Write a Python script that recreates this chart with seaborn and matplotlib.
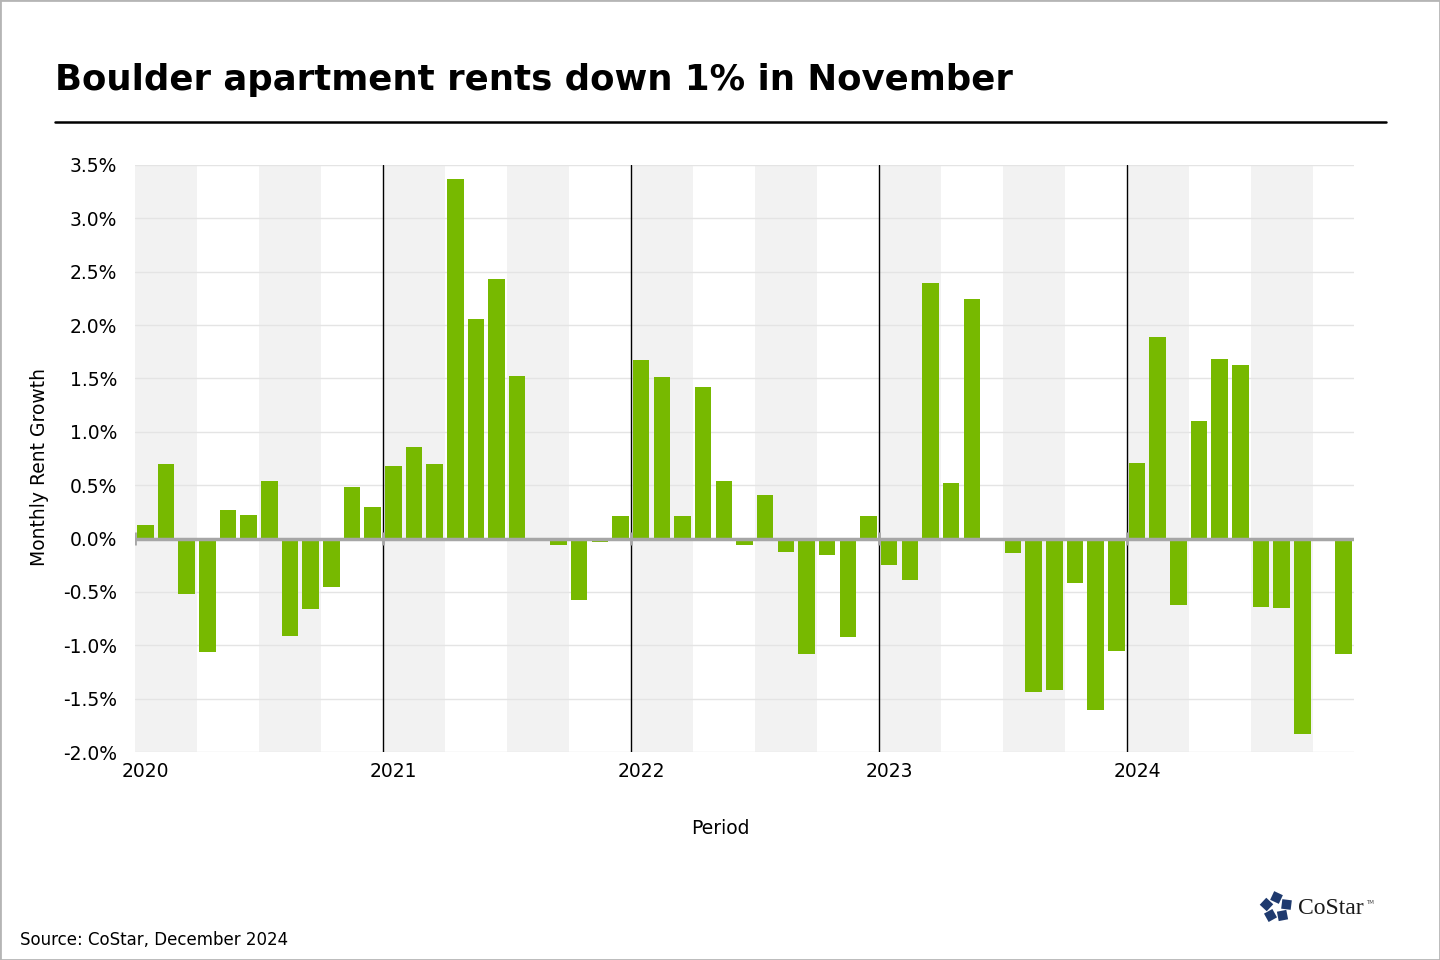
import matplotlib
matplotlib.use('Agg')
import matplotlib.pyplot as plt
from matplotlib.lines import Line2D
from matplotlib.patches import Rectangle
import seaborn as sns
import pandas as pd
import numpy as np


years = ['2020', '2021', '2022', '2023', '2024']
months = ['Jan', 'Feb', 'Mar', 'Apr', 'May', 'Jun',
          'Jul', 'Aug', 'Sep', 'Oct', 'Nov', 'Dec']

# croissance mensuelle des loyers (%)
growth_2020 = [0.13, 0.70, -0.52, -1.06, 0.27, 0.22, 0.54, -0.91, -0.66, -0.45, 0.48, 0.30]
growth_2021 = [0.68, 0.86, 0.70, 3.37, 2.06, 2.43, 1.52, 0.00, -0.06, -0.58, -0.03, 0.21]
growth_2022 = [1.67, 1.51, 0.21, 1.42, 0.54, -0.06, 0.41, -0.13, -1.08, -0.15, -0.92, 0.21]
growth_2023 = [-0.25, -0.39, 2.39, 0.52, 2.24, 0.00, -0.14, -1.44, -1.42, -0.42, -1.61, -1.05]
growth_2024 = [0.71, 1.89, -0.62, 1.10, 1.68, 1.63, -0.64, -0.65, -1.83, -0.02, -1.08]

y_ticks = [-2.0, -1.5, -1.0, -0.5, 0.0, 0.5, 1.0, 1.5, 2.0, 2.5, 3.0, 3.5]

title = 'Boulder apartment rents down 1% in November'
source = 'Source: CoStar, December 2024'

BAR_COLOR = '#77b900'
BAND_COLOR = '#f2f2f2'
GRID_COLOR = '#e4e4e4'


def main():
    sns.set_theme(style='white')
    plt.rcParams['font.family'] = ['DejaVu Sans']
    plt.rcParams['text.color'] = 'black'
    plt.rcParams['axes.labelcolor'] = 'black'

    all_growth = growth_2020 + growth_2021 + growth_2022 + growth_2023 + growth_2024
    periods = []
    for y in years:
        for m in months:
            periods.append(m + ' ' + y)
    periods = periods[:len(all_growth)]
    df = pd.DataFrame({'Period': periods, 'Growth': all_growth})
    n = len(df)

    fig = plt.figure(figsize=(14.4, 9.6), dpi=100)
    ax = fig.add_axes([135 / 1440, 1 - 752 / 960, (1354 - 135) / 1440, (752 - 165) / 960])

    # Bandes grises un trimestre sur deux
    for start in range(0, n, 6):
        ax.axvspan(start - 0.5, start + 2.5, color=BAND_COLOR, lw=0, zorder=0.1)

    sns.barplot(data=df, x='Period', y='Growth', color=BAR_COLOR, saturation=1,
                width=0.8, linewidth=0, ax=ax, zorder=2)

    # Lignes verticales entre les années
    for i in range(12, n, 12):
        ax.axvline(i - 0.5, color='black', lw=1, zorder=2.5)
    for i in range(0, n, 12):
        ax.vlines(i - 0.5, -0.06, 0.06, color='#a6a6a6', lw=2, zorder=3)

    ax.axhline(0, color='#a6a6a6', lw=2.5, zorder=3)

    ax.set_xlim(-0.5, n - 0.5)
    ax.set_ylim(-2.0, 3.5)
    ax.set_yticks(y_ticks)
    ax.set_yticklabels([f'{v:.1f}%' for v in y_ticks])
    ax.set_xticks(range(0, n, 12))
    ax.set_xticklabels(years)
    ax.tick_params(axis='both', length=0, labelsize=13.5, labelcolor='black')
    ax.tick_params(axis='y', pad=13)
    ax.tick_params(axis='x', pad=7)

    ax.set_axisbelow(True)
    ax.yaxis.grid(True, color=GRID_COLOR, lw=1)
    ax.xaxis.grid(False)
    for s in ax.spines.values():
        s.set_visible(False)

    ax.set_xlabel('')
    ax.set_ylabel('')
    fig.text(40 / 1440, 1 - 467 / 960, 'Monthly Rent Growth', fontsize=13.5,
             rotation=90, ha='center', va='center')
    fig.text(720 / 1440, 1 - 829 / 960, 'Period', fontsize=13.5, ha='center', va='center')

    # Titre et ligne
    fig.text(55 / 1440, 1 - 80 / 960, title, fontsize=25.6, fontweight='bold',
             ha='left', va='center')
    fig.add_artist(Line2D([55 / 1440, 1386 / 1440], [1 - 122 / 960, 1 - 122 / 960],
                          color='black', lw=1.8))

    fig.text(20 / 1440, 1 - 940 / 960, source, fontsize=12, ha='left', va='center')

    # Logo CoStar (approximation)
    lax = fig.add_axes([1258 / 1440, 1 - 924 / 960, 36 / 1440, 34 / 960])
    lax.set_xlim(-1, 1)
    lax.set_ylim(-1, 1)
    lax.axis('off')
    for k in range(5):
        a = np.pi / 2 + k * 2 * np.pi / 5
        lax.scatter(0.6 * np.cos(a), 0.6 * np.sin(a), marker=(4, 0, np.degrees(a) + 20),
                    s=95, color='#1f3a6e', lw=0)
    fig.text(1298 / 1440, 1 - 908 / 960, 'CoStar', fontsize=17, family='Liberation Serif',
             color='#1a1a1a', ha='left', va='center')
    fig.text(1366 / 1440, 1 - 903 / 960, 'TM', fontsize=4, color='#444444',
             ha='left', va='center')

    # Cadre gris autour de la figure
    fig.add_artist(Rectangle((0, 0), 1, 1, transform=fig.transFigure, fill=False,
                             edgecolor='#b5b5b5', lw=2))

    fig.savefig('out.png', dpi=100)
    return 0


if __name__ == '__main__':
    main()
